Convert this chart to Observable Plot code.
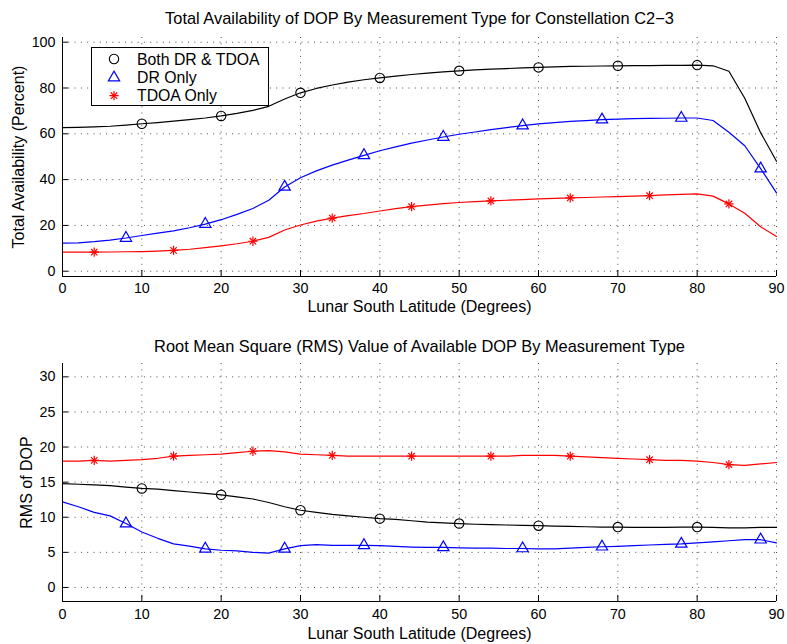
<!DOCTYPE html>
<html>
<head>
<meta charset="utf-8">
<script src="https://cdn.jsdelivr.net/npm/d3@7"></script>
<script src="https://cdn.jsdelivr.net/npm/@observablehq/plot@0.6"></script>
<style>
  body { margin: 0; background: #fff; }
  #wrap { position: relative; width: 787px; height: 644px; font-family: "Liberation Sans", Arial, Helvetica, sans-serif; }
  #wrap svg { display: block; }
  #legend { position: absolute; left: 91px; top: 47px; }
</style>
</head>
<body>
<div id="wrap"></div>
<script>
// ---------------- data ----------------
const latitude = [0,2,4,6,8,10,12,14,16,18,20,22,24,26,28,30,32,34,36,38,40,42,44,46,48,50,52,54,56,58,60,62,64,66,68,70,72,74,76,78,80,82,84,86,88,90];

// Total availability (percent)
const availBoth = [62.7,62.8,63.0,63.3,63.8,64.4,64.9,65.5,66.2,66.9,67.8,68.9,70.2,72.0,75.2,77.9,79.8,81.3,82.6,83.6,84.4,85.2,85.9,86.5,87.0,87.5,87.9,88.2,88.5,88.8,89.0,89.2,89.4,89.5,89.6,89.7,89.8,89.8,89.9,89.9,90.0,89.7,87.3,75.5,60.5,48.0];
const availDR   = [12.3,12.4,12.9,13.6,14.5,15.6,16.6,17.6,19.0,20.6,22.5,24.8,27.4,31.0,36.8,40.8,43.8,46.3,48.5,50.6,52.6,54.3,55.9,57.3,58.6,59.8,60.8,61.8,62.7,63.6,64.3,64.9,65.4,65.8,66.2,66.4,66.6,66.7,66.8,66.9,66.9,65.8,60.7,54.8,44.8,34.2];
const availTDOA = [8.3,8.3,8.3,8.4,8.5,8.6,8.8,9.1,9.6,10.3,11.1,12.0,13.1,14.8,18.0,20.2,21.9,23.2,24.3,25.2,26.3,27.3,28.2,28.9,29.5,30.0,30.4,30.7,31.0,31.3,31.6,31.8,32.0,32.2,32.4,32.6,32.8,33.0,33.3,33.6,33.8,32.8,29.4,25.3,19.4,15.2];

// RMS of available DOP
const rmsBoth = [14.8,14.7,14.6,14.5,14.3,14.1,14.0,13.8,13.6,13.4,13.2,12.9,12.6,12.1,11.5,11.0,10.7,10.4,10.2,10.0,9.8,9.7,9.5,9.3,9.2,9.1,9.0,8.95,8.9,8.85,8.8,8.75,8.7,8.65,8.6,8.6,8.55,8.55,8.55,8.6,8.6,8.55,8.5,8.5,8.55,8.55];
const rmsDR   = [12.2,11.5,10.7,10.2,9.1,7.9,7.0,6.2,5.9,5.5,5.3,5.2,5.0,4.9,5.5,5.95,6.1,6.0,6.0,6.0,5.95,5.85,5.75,5.7,5.7,5.65,5.6,5.6,5.55,5.55,5.5,5.5,5.6,5.7,5.8,5.85,5.95,6.05,6.15,6.2,6.35,6.5,6.65,6.8,6.8,6.35];
const rmsTDOA = [18.0,18.0,18.1,18.0,18.1,18.2,18.4,18.7,18.8,18.9,19.0,19.2,19.4,19.5,19.3,19.0,18.9,18.8,18.7,18.7,18.7,18.7,18.7,18.7,18.7,18.7,18.7,18.7,18.7,18.8,18.8,18.8,18.7,18.6,18.5,18.4,18.3,18.2,18.1,18.1,18.0,17.8,17.5,17.4,17.6,17.8];

// marker latitudes
const markerBoth = [10,20,30,40,50,60,70,80];
const markerDR   = [8,18,28,38,48,58,68,78,88];
const markerTDOA = [4,14,24,34,44,54,64,74,84];

// labels & ticks
const seriesNames = ["Both DR & TDOA", "DR Only", "TDOA Only"];
const seriesColors = ["#000000", "#0000ff", "#ff0000"];
const xTicks = [0,10,20,30,40,50,60,70,80,90];
const availTicks = [0,20,40,60,80,100];
const rmsTicks = [0,5,10,15,20,25,30];
const titleTop = "Total Availability of DOP By Measurement Type for Constellation C2\u22123";
const titleBottom = "Root Mean Square (RMS) Value of Available DOP By Measurement Type";
const xLabel = "Lunar South Latitude (Degrees)";
const yLabelTop = "Total Availability (Percent)";
const yLabelBottom = "RMS of DOP";

// ---------------- drawing ----------------
const FONT = '"Liberation Sans", Arial, Helvetica, sans-serif';
const W = 787, H = 322, ML = 62, MR = 11;

const rowsOf = (values) => latitude.map((lat, i) => ({lat, value: values[i]}));
const markersOf = (values, lats) => lats.map(lat => ({lat, value: values[latitude.indexOf(lat)]}));

function asteriskMarks(data, color) {
  return [
    Plot.dot(data, {x: "lat", y: "value", symbol: d3.symbolPlus, r: 3.1, stroke: color, fill: "none", strokeWidth: 1.2}),
    Plot.dot(data, {x: "lat", y: "value", symbol: d3.symbolTimes, r: 3.0, stroke: color, fill: "none", strokeWidth: 1.2})
  ];
}

function panel({series, yDomain, yTicks, title, ylabel, marginTop, marginBottom, titleDy, xlabelDy, ylabelDx, tickDy}) {
  const plotH = H - marginTop - marginBottom;
  const plotW = W - ML - MR;
  const [both, dr, tdoa] = series;
  return Plot.plot({
    width: W, height: H,
    marginLeft: ML, marginRight: MR, marginTop, marginBottom,
    x: {domain: [0, 90], axis: null},
    y: {domain: yDomain, axis: null},
    style: {fontFamily: FONT, background: "#fff", overflow: "visible", color: "#000"},
    marks: [
      // dotted grid
      Plot.ruleX(xTicks.filter(d => d > 0), {x: d => d, stroke: "#000", strokeOpacity: 0.7, strokeWidth: 1, strokeDasharray: "1,5.3"}),
      Plot.ruleY(yTicks, {y: d => d, stroke: "#000", strokeOpacity: 0.7, strokeWidth: 1, strokeDasharray: "1,5.3"}),
      // lines
      Plot.line(rowsOf(both), {x: "lat", y: "value", stroke: seriesColors[0], strokeWidth: 1.2}),
      Plot.line(rowsOf(dr), {x: "lat", y: "value", stroke: seriesColors[1], strokeWidth: 1.2}),
      Plot.line(rowsOf(tdoa), {x: "lat", y: "value", stroke: seriesColors[2], strokeWidth: 1.2}),
      // markers
      Plot.dot(markersOf(both, markerBoth), {x: "lat", y: "value", symbol: "circle", r: 4.7, stroke: seriesColors[0], fill: "none", strokeWidth: 1.1}),
      Plot.dot(markersOf(dr, markerDR), {x: "lat", y: "value", symbol: "triangle", r: 4.2, stroke: seriesColors[1], fill: "none", strokeWidth: 1.2}),
      ...asteriskMarks(markersOf(tdoa, markerTDOA), seriesColors[2]),
      // axes lines
      Plot.ruleX([0], {x: d => d, stroke: "#000", strokeWidth: 1}),
      Plot.ruleY([yDomain[0]], {y: d => d, stroke: "#000", strokeWidth: 1}),
      // inward ticks
      Plot.ruleX(xTicks, {x: d => d, insetTop: plotH - 6, stroke: "#000"}),
      Plot.ruleY(yTicks, {y: d => d, insetRight: plotW - 6, stroke: "#000"}),
      // tick labels
      Plot.text(xTicks, {x: d => d, text: d => String(d), frameAnchor: "bottom", dy: tickDy, lineAnchor: "middle", textAnchor: "middle", fontSize: 14.3, fontFamily: FONT, fill: "#000"}),
      Plot.text(yTicks, {y: d => d, text: d => String(d), frameAnchor: "left", dx: -7, lineAnchor: "middle", textAnchor: "end", fontSize: 14.3, fontFamily: FONT, fill: "#000"}),
      // title & labels
      Plot.text([title], {text: d => d, frameAnchor: "top", dy: titleDy, lineAnchor: "middle", textAnchor: "middle", fontSize: 16.4, fontFamily: FONT, fill: "#000"}),
      Plot.text([xLabel], {text: d => d, frameAnchor: "bottom", dy: xlabelDy, lineAnchor: "middle", textAnchor: "middle", fontSize: 16, fontFamily: FONT, fill: "#000"}),
      Plot.text([ylabel], {text: d => d, frameAnchor: "left", dx: ylabelDx, rotate: -90, lineAnchor: "middle", textAnchor: "middle", fontSize: 16, fontFamily: FONT, fill: "#000"})
    ]
  });
}

const wrap = document.getElementById("wrap");

wrap.appendChild(panel({
  series: [availBoth, availDR, availTDOA],
  yDomain: [-2.3, 102.05],
  yTicks: availTicks,
  title: titleTop, ylabel: yLabelTop,
  marginTop: 37, marginBottom: 46,
  titleDy: -19, xlabelDy: 30, ylabelDx: -44, tickDy: 12
}));

wrap.appendChild(panel({
  series: [rmsBoth, rmsDR, rmsTDOA],
  yDomain: [-2, 31.9],
  yTicks: rmsTicks,
  title: titleBottom, ylabel: yLabelBottom,
  marginTop: 41, marginBottom: 43,
  titleDy: -17, xlabelDy: 32, ylabelDx: -35.5, tickDy: 13
}));

// ---------------- legend (top panel) ----------------
const ns = "http://www.w3.org/2000/svg";
const leg = document.createElementNS(ns, "svg");
leg.setAttribute("id", "legend");
leg.setAttribute("width", 179);
leg.setAttribute("height", 60);
const box = document.createElementNS(ns, "rect");
box.setAttribute("x", 0.5); box.setAttribute("y", 0.5);
box.setAttribute("width", 177); box.setAttribute("height", 58);
box.setAttribute("fill", "#fff"); box.setAttribute("stroke", "#000");
leg.appendChild(box);
const symbolsForLegend = [
  [d3.symbolCircle, Math.PI * 4.7 * 4.7],
  [d3.symbolTriangle, Math.PI * 4.2 * 4.2],
  null
];
const rowY = [12, 30.7, 48.7];
seriesNames.forEach((name, i) => {
  const g = document.createElementNS(ns, "g");
  g.setAttribute("transform", `translate(23,${rowY[i]})`);
  if (symbolsForLegend[i]) {
    const p = document.createElementNS(ns, "path");
    p.setAttribute("d", d3.symbol(symbolsForLegend[i][0], symbolsForLegend[i][1])());
    p.setAttribute("fill", "none"); p.setAttribute("stroke", seriesColors[i]);
    p.setAttribute("stroke-width", i === 0 ? 1.1 : 1.2);
    g.appendChild(p);
  } else {
    [[d3.symbolPlus, Math.PI * 3.1 * 3.1], [d3.symbolTimes, Math.PI * 3.0 * 3.0]].forEach(([s, size]) => {
      const p = document.createElementNS(ns, "path");
      p.setAttribute("d", d3.symbol(s, size)());
      p.setAttribute("fill", "none"); p.setAttribute("stroke", seriesColors[i]);
      p.setAttribute("stroke-width", 1.2);
      g.appendChild(p);
    });
  }
  leg.appendChild(g);
  const t = document.createElementNS(ns, "text");
  t.setAttribute("x", 46);
  t.setAttribute("y", rowY[i]);
  t.setAttribute("dy", "0.35em");
  t.setAttribute("font-size", 15.8);
  t.setAttribute("font-family", FONT);
  t.setAttribute("fill", "#000");
  t.textContent = name;
  leg.appendChild(t);
});
wrap.appendChild(leg);
</script>
</body>
</html>
